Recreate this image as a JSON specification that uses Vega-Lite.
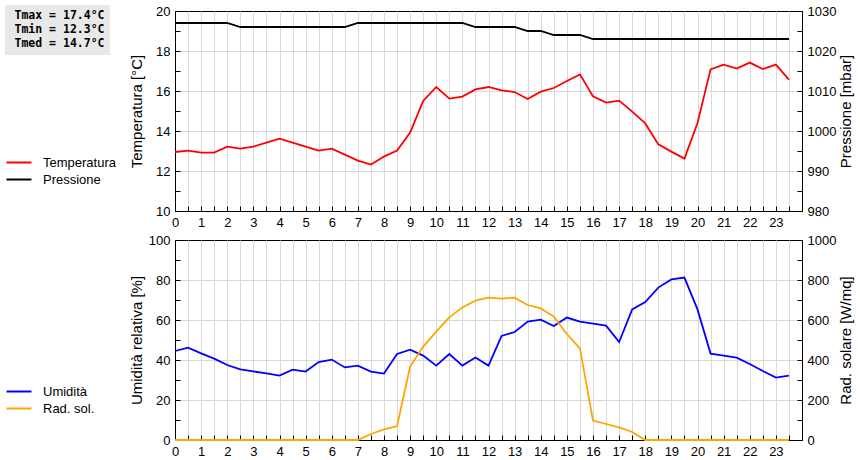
{
  "$schema": "https://vega.github.io/schema/vega-lite/v6.json",
  "padding": {"left": 5, "top": 4, "right": 5, "bottom": 0},
  "datasets": {
    "meteo": [
      {"ora": 0, "temp": 12.95, "press": 1027, "umid": 44.5, "rad": 0},
      {"ora": 0.5, "temp": 13.02, "press": 1027, "umid": 46.2, "rad": 0},
      {"ora": 1, "temp": 12.92, "press": 1027, "umid": 43.3, "rad": 0},
      {"ora": 1.5, "temp": 12.92, "press": 1027, "umid": 40.7, "rad": 0},
      {"ora": 2, "temp": 13.22, "press": 1027, "umid": 37.5, "rad": 0},
      {"ora": 2.5, "temp": 13.12, "press": 1026, "umid": 35.3, "rad": 0},
      {"ora": 3, "temp": 13.22, "press": 1026, "umid": 34.3, "rad": 0},
      {"ora": 3.5, "temp": 13.42, "press": 1026, "umid": 33.3, "rad": 0},
      {"ora": 4, "temp": 13.62, "press": 1026, "umid": 32.2, "rad": 0},
      {"ora": 4.5, "temp": 13.42, "press": 1026, "umid": 35.2, "rad": 0},
      {"ora": 5, "temp": 13.22, "press": 1026, "umid": 34.2, "rad": 0},
      {"ora": 5.5, "temp": 13.02, "press": 1026, "umid": 39, "rad": 0},
      {"ora": 6, "temp": 13.12, "press": 1026, "umid": 40.2, "rad": 0},
      {"ora": 6.5, "temp": 12.82, "press": 1026, "umid": 36.3, "rad": 0},
      {"ora": 7, "temp": 12.52, "press": 1027, "umid": 37.2, "rad": 0},
      {"ora": 7.5, "temp": 12.32, "press": 1027, "umid": 34.2, "rad": 30},
      {"ora": 8, "temp": 12.72, "press": 1027, "umid": 33.2, "rad": 53},
      {"ora": 8.5, "temp": 13.02, "press": 1027, "umid": 43, "rad": 70},
      {"ora": 9, "temp": 13.92, "press": 1027, "umid": 45.2, "rad": 367},
      {"ora": 9.5, "temp": 15.5, "press": 1027, "umid": 42.2, "rad": 467},
      {"ora": 10, "temp": 16.2, "press": 1027, "umid": 37.2, "rad": 542},
      {"ora": 10.5, "temp": 15.62, "press": 1027, "umid": 43, "rad": 613},
      {"ora": 11, "temp": 15.72, "press": 1027, "umid": 37.2, "rad": 663},
      {"ora": 11.5, "temp": 16.08, "press": 1026, "umid": 41.2, "rad": 697},
      {"ora": 12, "temp": 16.2, "press": 1026, "umid": 37.2, "rad": 712},
      {"ora": 12.5, "temp": 16.03, "press": 1026, "umid": 52, "rad": 707},
      {"ora": 13, "temp": 15.95, "press": 1026, "umid": 54, "rad": 712},
      {"ora": 13.5, "temp": 15.6, "press": 1025, "umid": 59.2, "rad": 675},
      {"ora": 14, "temp": 15.97, "press": 1025, "umid": 60.2, "rad": 658},
      {"ora": 14.5, "temp": 16.15, "press": 1024, "umid": 57, "rad": 617},
      {"ora": 15, "temp": 16.5, "press": 1024, "umid": 61.2, "rad": 530},
      {"ora": 15.5, "temp": 16.83, "press": 1024, "umid": 59.2, "rad": 458},
      {"ora": 16, "temp": 15.73, "press": 1023, "umid": 58.2, "rad": 97},
      {"ora": 16.5, "temp": 15.42, "press": 1023, "umid": 57.2, "rad": 80},
      {"ora": 17, "temp": 15.52, "press": 1023, "umid": 49, "rad": 63},
      {"ora": 17.5, "temp": 14.97, "press": 1023, "umid": 65.3, "rad": 40},
      {"ora": 18, "temp": 14.38, "press": 1023, "umid": 69, "rad": 0},
      {"ora": 18.5, "temp": 13.33, "press": 1023, "umid": 76.2, "rad": 0},
      {"ora": 19, "temp": 12.97, "press": 1023, "umid": 80.3, "rad": 0},
      {"ora": 19.5, "temp": 12.62, "press": 1023, "umid": 81.2, "rad": 0},
      {"ora": 20, "temp": 14.4, "press": 1023, "umid": 65.3, "rad": 0},
      {"ora": 20.5, "temp": 17.08, "press": 1023, "umid": 43.2, "rad": 0},
      {"ora": 21, "temp": 17.32, "press": 1023, "umid": 42.2, "rad": 0},
      {"ora": 21.5, "temp": 17.12, "press": 1023, "umid": 41.2, "rad": 0},
      {"ora": 22, "temp": 17.42, "press": 1023, "umid": 38, "rad": 0},
      {"ora": 22.5, "temp": 17.1, "press": 1023, "umid": 34.5, "rad": 0},
      {"ora": 23, "temp": 17.32, "press": 1023, "umid": 31.2, "rad": 0},
      {"ora": 23.5, "temp": 16.57, "press": 1023, "umid": 32.2, "rad": 0}
    ],
    "stats": [
      {"stat": "Tmax = 17.4°C"},
      {"stat": "Tmin = 12.3°C"},
      {"stat": "Tmed = 14.7°C"}
    ]
  },
  "vconcat": [
    {
      "width": 627,
      "height": 200,
      "layer": [
        {
          "data": {"name": "meteo"},
          "mark": {"type": "line", "strokeWidth": 1.8},
          "encoding": {
            "x": {
              "field": "ora", "type": "quantitative",
              "scale": {"domain": [0, 24], "nice": false, "zero": false},
              "axis": {
                "orient": "bottom", "title": null,
                "values": [0,1,2,3,4,5,6,7,8,9,10,11,12,13,14,15,16,17,18,19,20,21,22,23],
                "ticks": false, "grid": false, "labelPadding": 5
              }
            },
            "y": {
              "field": "temp", "type": "quantitative",
              "scale": {"domain": [10, 20], "nice": false, "zero": false},
              "axis": {
                "title": "Temperatura [°C]",
                "titlePadding": 11.5,
                "values": [10,11,12,13,14,15,16,17,18,19,20],
                "labelExpr": "datum.value % 2 ? '' : datum.label",
                "grid": true,
                "gridColor": {"condition": {"test": "datum.value % 2 == 0 && datum.value > 10 && datum.value < 20", "value": "#d9d9d9"}, "value": "transparent"}
              }
            },
            "color": {
              "datum": "Temperatura",
              "scale": {"domain": ["Temperatura", "Pressione"], "range": ["#ff0000", "#000000"]}
            }
          }
        },
        {
          "data": {"name": "meteo"},
          "mark": {"type": "line", "strokeWidth": 1.8},
          "encoding": {
            "x": {
              "field": "ora", "type": "quantitative",
              "axis": {
                "orient": "bottom", "title": null, "labels": false, "domain": false,
                "values": [0,0.5,1,1.5,2,2.5,3,3.5,4,4.5,5,5.5,6,6.5,7,7.5,8,8.5,9,9.5,10,10.5,11,11.5,12,12.5,13,13.5,14,14.5,15,15.5,16,16.5,17,17.5,18,18.5,19,19.5,20,20.5,21,21.5,22,22.5,23,23.5],
                "grid": true,
                "gridColor": {"condition": {"test": "datum.value > 0", "value": "#d9d9d9"}, "value": "transparent"}
              }
            },
            "y": {
              "field": "press", "type": "quantitative",
              "scale": {"domain": [980, 1030], "nice": false, "zero": false},
              "axis": {
                "orient": "right",
                "title": "Pressione [mbar]",
                "titleAngle": 270,
                "titleBaseline": "top",
                "titlePadding": 3,
                "values": [980,985,990,995,1000,1005,1010,1015,1020,1025,1030],
                "labelExpr": "datum.value % 10 ? '' : datum.label",
                "grid": false
              }
            },
            "color": {"datum": "Pressione"}
          }
        },
        {
          "data": {"name": "stats"},
          "mark": {"type": "point", "opacity": 0, "size": 0},
          "encoding": {
            "shape": {
              "field": "stat", "type": "nominal",
              "scale": {"domain": ["Tmax = 17.4°C", "Tmin = 12.3°C", "Tmed = 14.7°C"], "range": ["circle", "circle", "circle"]},
              "legend": {
                "orient": "none", "legendX": -170, "legendY": -6,
                "title": null, "fillColor": "#e8e8e8", "padding": 5,
                "symbolSize": 0, "symbolOpacity": 0, "symbolStrokeWidth": 0, "labelOffset": -7,
                "labelFont": "DejaVu Sans Mono", "labelFontWeight": "bold", "labelFontSize": 11.5,
                "labelColor": "#000000", "rowPadding": 1, "labelLimit": 300
              }
            }
          }
        }
      ],
      "resolve": {"scale": {"y": "independent"}, "axis": {"x": "independent"}}
    },
    {
      "width": 627,
      "height": 200,
      "layer": [
        {
          "data": {"name": "meteo"},
          "mark": {"type": "line", "strokeWidth": 1.8},
          "encoding": {
            "x": {
              "field": "ora", "type": "quantitative",
              "scale": {"domain": [0, 24], "nice": false, "zero": false},
              "axis": {
                "orient": "bottom", "title": null,
                "values": [0,1,2,3,4,5,6,7,8,9,10,11,12,13,14,15,16,17,18,19,20,21,22,23],
                "ticks": false, "grid": false, "labelPadding": 5
              }
            },
            "y": {
              "field": "umid", "type": "quantitative",
              "scale": {"domain": [0, 100], "nice": false},
              "axis": {
                "title": "Umidità relativa [%]",
                "titlePadding": 4,
                "values": [0,10,20,30,40,50,60,70,80,90,100],
                "labelExpr": "datum.value % 20 ? '' : datum.label",
                "grid": true,
                "gridColor": {"condition": {"test": "datum.value % 20 == 0 && datum.value > 0 && datum.value < 100", "value": "#d9d9d9"}, "value": "transparent"}
              }
            },
            "color": {
              "datum": "Umidità",
              "scale": {"domain": ["Umidità", "Rad. sol."], "range": ["#0000ff", "#ffa500"]}
            }
          }
        },
        {
          "data": {"name": "meteo"},
          "mark": {"type": "line", "strokeWidth": 1.8},
          "encoding": {
            "x": {
              "field": "ora", "type": "quantitative",
              "axis": {
                "orient": "bottom", "title": null, "labels": false, "domain": false,
                "values": [0,0.5,1,1.5,2,2.5,3,3.5,4,4.5,5,5.5,6,6.5,7,7.5,8,8.5,9,9.5,10,10.5,11,11.5,12,12.5,13,13.5,14,14.5,15,15.5,16,16.5,17,17.5,18,18.5,19,19.5,20,20.5,21,21.5,22,22.5,23,23.5],
                "grid": true,
                "gridColor": {"condition": {"test": "datum.value > 0", "value": "#d9d9d9"}, "value": "transparent"}
              }
            },
            "y": {
              "field": "rad", "type": "quantitative",
              "scale": {"domain": [0, 1000], "nice": false},
              "axis": {
                "orient": "right",
                "title": "Rad. solare [W/mq]",
                "titleAngle": 270,
                "titleBaseline": "top",
                "titlePadding": 3,
                "values": [0,100,200,300,400,500,600,700,800,900,1000],
                "labelExpr": "datum.value % 200 ? '' : datum.label",
                "grid": false
              }
            },
            "color": {"datum": "Rad. sol."}
          }
        }
      ],
      "resolve": {"scale": {"y": "independent"}, "axis": {"x": "independent"}}
    }
  ],
  "spacing": 3,
  "resolve": {"scale": {"color": "independent"}, "legend": {"color": "independent"}},
  "config": {
    "font": "Liberation Sans",
    "view": {"stroke": "#000000", "strokeWidth": 1},
    "axis": {
      "domainColor": "#000000",
      "tickColor": "#000000",
      "tickSize": -5,
      "labelColor": "#000000",
      "labelFont": "Liberation Sans",
      "labelFontSize": 13,
      "labelPadding": 10,
      "labelFlush": false,
      "labelOverlap": false,
      "titleColor": "#000000",
      "titleFont": "Liberation Sans",
      "titleFontSize": 15,
      "titleFontWeight": "normal",
      "titlePadding": 8,
      "format": "d"
    },
    "legend": {
      "orient": "none",
      "legendX": -162.5,
      "legendY": 145,
      "title": null,
      "symbolType": "M-2.5,0H2.5",
      "symbolSize": 100,
      "symbolStrokeWidth": 2,
      "labelOffset": 17.5,
      "labelFont": "Liberation Sans",
      "labelFontSize": 13,
      "labelColor": "#000000",
      "rowPadding": 3,
      "padding": 0
    }
  }
}
